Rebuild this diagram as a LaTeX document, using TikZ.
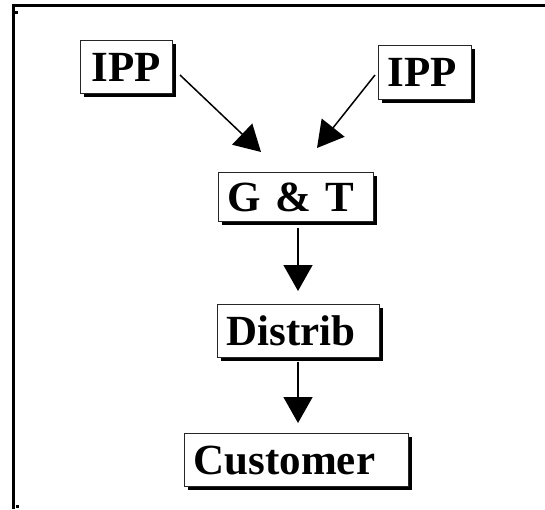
\documentclass[tikz,border=0pt]{standalone}
\usepackage{fontspec}
\setmainfont{Liberation Serif}
\usetikzlibrary{arrows.meta,shadows}
\begin{document}
\begin{tikzpicture}[x=1pt,y=-1pt,
  box/.style={draw=black!85, line width=1.2pt, fill=white, inner xsep=9pt, inner ysep=0pt,
    align=left, anchor=north west, font=\fontsize{43}{43}\selectfont\bfseries,
    drop shadow={shadow xshift=3.5pt, shadow yshift=-3.5pt, fill=black, opacity=1}},
  conn/.style={line width=1.5pt, -{Triangle[length=26pt,width=29pt]}},
  frame/.style={line width=3pt}]
\useasboundingbox (0,0) rectangle (545,509);
% frame
\draw[frame] (13,509) -- (13,5) -- (545,5);
\fill (15,11) rectangle (18,14);
\fill (16,505) rectangle (19,508);
% boxes
\node[box, text width=74pt, minimum height=53pt, align=center] (ipp1) at (80,40) {IPP};
\node[box, text width=75pt, minimum height=54pt] (ipp2) at (378,45) {IPP};
\node[box, text width=137pt, minimum height=49pt] (gt) at (218,172) {G \& T};
\node[box, text width=144pt, minimum height=53pt] (dist) at (217,304) {Distrib};
\node[box, text width=206pt, minimum height=53pt] (cust) at (184,433) {Customer};
% connector ends
\coordinate (a1s) at (180,75);
\coordinate (a1e) at (261,152);
\coordinate (a2s) at (375,75);
\coordinate (a2e) at (317,148);
\coordinate (a3s) at (298,228);
\coordinate (a3e) at (298,291);
\coordinate (a4s) at (298,362);
\coordinate (a4e) at (298,423);
\draw[conn] (a1s) -- (a1e);
\draw[conn] (a2s) -- (a2e);
\draw[conn] (a3s) -- (a3e);
\draw[conn] (a4s) -- (a4e);
\end{tikzpicture}
\end{document}
